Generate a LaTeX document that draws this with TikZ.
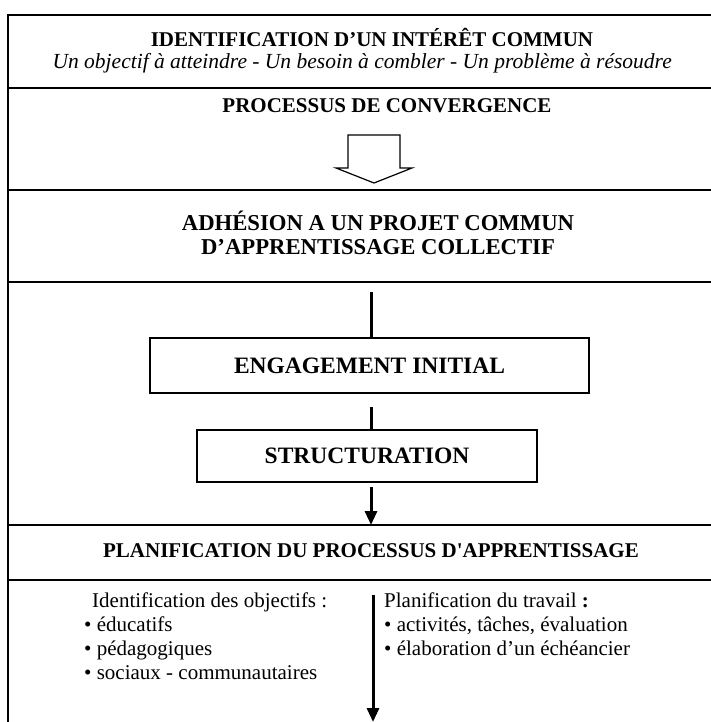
\documentclass[tikz,border=0pt]{standalone}
\usepackage{fontspec}
\setmainfont{Liberation Serif}
% same face without the TeX quote mapping, for a straight apostrophe
\newfontfamily\plainq{Liberation Serif}
\usetikzlibrary{arrows.meta}
\begin{document}
\begin{tikzpicture}[x=1pt,y=-1pt,
  frame/.style={line width=2pt,line join=miter},
  stagebox/.style={draw,line width=2pt,inner sep=0pt,font=\fontsize{23.5}{26}\selectfont\bfseries},
  link/.style={line width=3pt},
  flow/.style={line width=3pt,-{Triangle[width=12pt,length=14pt]}},
  head/.style={font=\fontsize{21}{23}\selectfont\bfseries,anchor=base,inner sep=0pt},
  bighead/.style={head,font=\fontsize{22.7}{25}\selectfont\bfseries},
  body/.style={font=\fontsize{21}{24}\selectfont,anchor=base west,inner sep=0pt},
  hollow/.style={draw,line width=1.2pt,line join=miter,fill=white},
]
\useasboundingbox (0,0) rectangle (711,722);

% outer frame and row separators
\draw[frame] (712,15) -- (8,15) -- (8,723);
\foreach \yy in {88,190,282,525,580}
  \draw[frame] (8,\yy) -- (712,\yy);

% first row: common interest
\node[head] (title) at (372,47) {IDENTIFICATION D’UN INTÉRÊT COMMUN};
\node[font=\fontsize{21.5}{24}\selectfont\itshape,anchor=base east,inner sep=0pt] (aims) at (672,69)
  {Un objectif à atteindre - Un besoin à combler - Un problème à résoudre};

% second row: convergence with a hollow arrow
\node[head] (conv) at (387,113) {PROCESSUS DE CONVERGENCE};
\draw[hollow] (348,135) -- (400,135) -- (400,168) -- (412,168) -- (374,183)
  -- (336,168) -- (348,168) -- cycle;

% third row: adhesion
\node[bighead] (adhA) at (378,230) {ADHÉSION A UN PROJET COMMUN};
\node[bighead] (adhB) at (378,254) {D’APPRENTISSAGE COLLECTIF};

% fourth row: engagement and structuring
\node[stagebox,minimum width=439pt,minimum height=55pt] (engage) at (369.5,365.5) {ENGAGEMENT INITIAL};
\node[stagebox,minimum width=340pt,minimum height=52pt] (struct) at (367,456) {STRUCTURATION};

\coordinate (l1) at (371,292);
\draw[link] (l1) -- (l1 |- engage.north);
\coordinate (l2) at (371,407);
\draw[link] (l2) -- (l2 |- struct.north);
\coordinate (a1) at (371,487);
\coordinate (a1e) at (371,525);
\draw[flow] (a1) -- (a1e);

% fifth row: planning
\node[head] (plan) at (371,557) {PLANIFICATION DU PROCESSUS D{\plainq'}APPRENTISSAGE};

% last row: two columns split by an arrow
\node[body] (obj) at (92,607) {Identification des objectifs :};
\node[body] (obj1) at (84,631) {• éducatifs};
\node[body] (obj2) at (84,655) {• pédagogiques};
\node[body] (obj3) at (84,679) {• sociaux - communautaires};

\node[body] (work) at (384,607) {Planification du travail \textbf{:}};
\node[body] (work1) at (384,631) {• activités, tâches, évaluation};
\node[body] (work2) at (384,655) {• élaboration d’un échéancier};

\coordinate (a2) at (373,595);
\coordinate (a2e) at (373,722);
\draw[flow] (a2) -- (a2e);
\end{tikzpicture}
\end{document}
